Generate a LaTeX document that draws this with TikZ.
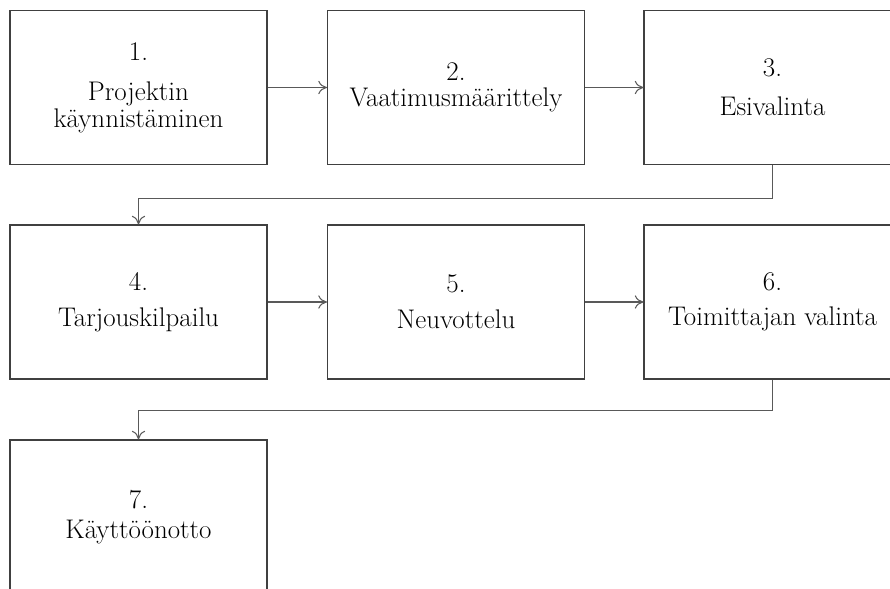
\documentclass[tikz,border=0pt]{standalone}
\usepackage{tikz}
\usetikzlibrary{arrows.meta, calc}
\tikzset{
  blk/.style={
    rectangle, draw=black!75, line width=0.9pt,
    minimum width=7.71cm, minimum height=4.62cm,
    align=center, fill=white, inner sep=0pt,
    font=\fontsize{23}{23}\selectfont
  },
  arr/.style  = {-{To[length=2.6mm, width=4mm]}, line width=0.9pt, black!65},
}

\begin{document}
\begin{tikzpicture}

\useasboundingbox (0,0) rectangle (26.7,-17.67);
\clip (0,0) rectangle (26.7,-17.67);

%% ── Row 1: Projektin käynnistäminen | Vaatimusmäärittely | Esivalinta ───────
\node[blk] (S1) at ( 4.155,  -2.625) {1.\\[11pt]Projektin\\käynnistäminen};
\node[blk] (S2) at (13.68,   -2.625) {2.\\[-1pt]Vaatimusmäärittely};
\node[blk] (S3) at (23.175,  -2.625) {3.\\[10pt]Esivalinta};

%% ── Row 2: Tarjouskilpailu | Neuvottelu | Toimittajan valinta ───────────────
\node[blk] (S4) at ( 4.155,  -9.06) {4.\\[8pt]Tarjouskilpailu};
\node[blk] (S5) at (13.68,   -9.06) {5.\\[8pt]Neuvottelu};
\node[blk] (S6) at (23.175,  -9.06) {6.\\[7pt]Toimittajan valinta};

%% ── Row 3: Käyttöönotto ─────────────────────────────────────────────────────
\node[blk] (S7) at ( 4.155, -15.51) {7.\\[2pt]Käyttöönotto};

%% ── Row 1 arrows ────────────────────────────────────────────────────────────
\draw[arr] (S1.east) -- (S2.west);
\draw[arr] (S2.east) -- (S3.west);

%% ── Esivalinta → Tarjouskilpailu (down → left → down) ──────────────────────
\draw[arr] (S3.south) -- ++(0, -0.99) -| (S4.north);

%% ── Row 2 arrows ────────────────────────────────────────────────────────────
\draw[arr] (S4.east) -- (S5.west);
\draw[arr] (S5.east) -- (S6.west);

%% ── Toimittajan valinta → Käyttöönotto (down → left → down) ────────────────
\draw[arr] (S6.south) -- ++(0, -0.93) -| (S7.north);

\end{tikzpicture}
\end{document}
